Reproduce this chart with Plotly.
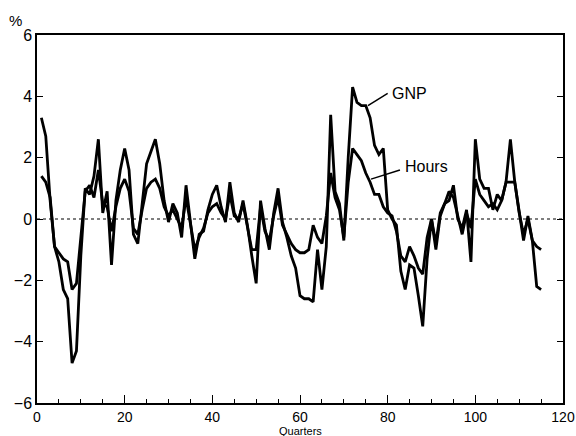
import plotly.graph_objects as go

quarters = list(range(1, 116))
gnp = [3.3, 2.7, 0.6, -0.9, -1.4, -2.3, -2.6, -4.7, -4.3, -1.2,
       1.0, 0.8, 1.4, 2.6, 0.2, 0.9, -1.5, 0.6, 1.6, 2.3,
       1.6, -0.5, -0.8, 0.4, 1.8, 2.2, 2.6, 1.8, 0.6, -0.1,
       0.5, 0.2, -0.6, 1.1, -0.1, -1.3, -0.5, -0.4, 0.3, 0.8,
       1.1, 0.4, -0.1, 1.2, 0.2, -0.1, 0.6, -0.2, -1.2, -2.1,
       0.6, -0.3, -1.0, 0.2, 1.0, -0.1, -0.6, -1.2, -1.6, -2.5,
       -2.6, -2.6, -2.7, -1.0, -2.3, -0.9, 3.4, 0.9, 0.5, -0.7,
       2.0, 4.3, 3.8, 3.7, 3.7, 3.3, 2.4, 2.1, 2.3, 0.3,
       0.0, -0.2, -1.7, -2.3, -1.5, -1.6, -2.5, -3.5, -1.3, 0.0,
       -1.0, 0.1, 0.5, 0.6, 1.1, 0.0, -0.3, 0.3, -1.4, 2.6,
       1.3, 1.0, 1.0, 0.3, 0.8, 0.6, 1.2, 2.6, 1.2, 0.3,
       -0.7, 0.1, -0.7, -2.2, -2.3]
hours = [1.4, 1.2, 0.7, -0.9, -1.1, -1.3, -1.4, -2.3, -2.1, -0.6,
         0.9, 1.1, 0.7, 1.6, 0.5, 0.4, -0.4, 0.4, 1.0, 1.3,
         0.9, -0.3, -0.5, 0.3, 1.0, 1.2, 1.3, 1.0, 0.4, 0.1,
         0.3, 0.0, -0.3, 0.7, -0.1, -1.0, -0.6, -0.3, 0.2, 0.4,
         0.5, 0.2, 0.0, 0.8, 0.1, 0.0, 0.5, -0.3, -1.0, -1.0,
         0.4, -0.4, -0.7, 0.1, 0.7, -0.2, -0.5, -0.8, -1.0, -1.1,
         -1.1, -1.0, -0.2, -0.6, -0.8, 0.1, 1.5, 0.7, 0.3, -0.6,
         1.2, 2.3, 2.1, 1.9, 1.5, 1.2, 0.8, 0.8, 0.4, 0.2,
         0.1, -0.4, -1.2, -1.4, -0.9, -1.2, -1.6, -1.8, -0.6, 0.0,
         -0.8, 0.2, 0.5, 0.9, 0.7, 0.1, -0.5, 0.2, -0.3, 1.3,
         0.8, 0.6, 0.4, 0.5, 0.3, 0.6, 1.2, 1.2, 1.2, 0.2,
         -0.5, 0.0, -0.7, -0.9, -1.0]

x_ticks = [0, 20, 40, 60, 80, 100, 120]
y_ticks = [-6, -4, -2, 0, 2, 4, 6]

FONT = "Liberation Sans, Arial, sans-serif"

fig = go.Figure()
fig.add_trace(go.Scatter(x=quarters, y=gnp, mode="lines", name="GNP",
                         line=dict(color="black", width=2.8)))
fig.add_trace(go.Scatter(x=quarters, y=hours, mode="lines", name="Hours",
                         line=dict(color="black", width=2.8)))

# zero reference line
fig.add_shape(type="line", xref="x", yref="y", x0=0, x1=120, y0=0, y1=0,
              line=dict(color="black", width=1.2, dash="dot"))

# labels with leader lines
fig.add_shape(type="line", xref="x", yref="y", x0=80.0, y0=4.1, x1=75.5, y1=3.7,
              line=dict(color="black", width=1.5))
fig.add_annotation(x=80.6, y=4.1, text="GNP", showarrow=False, xanchor="left",
                   yanchor="middle", font=dict(family=FONT, size=16, color="black"))
fig.add_shape(type="line", xref="x", yref="y", x0=82.8, y0=1.6, x1=76.2, y1=1.3,
              line=dict(color="black", width=1.5))
fig.add_annotation(x=83.4, y=1.7, text="Hours", showarrow=False, xanchor="left",
                   yanchor="middle", font=dict(family=FONT, size=16, color="black"))

fig.add_annotation(xref="paper", yref="paper", x=-0.04, y=1.01, text="%",
                   showarrow=False, xanchor="center", yanchor="bottom",
                   font=dict(family=FONT, size=15, color="black"))
fig.add_annotation(xref="paper", yref="paper", x=0.5, y=-0.055, text="Quarters",
                   showarrow=False, xanchor="center", yanchor="top",
                   font=dict(family=FONT, size=11, color="black"))

fig.update_layout(
    width=576, height=436,
    margin=dict(l=37, r=13, t=35, b=33),
    paper_bgcolor="white", plot_bgcolor="white",
    showlegend=False,
    font=dict(family=FONT, color="black"),
)
fig.update_xaxes(range=[0, 120], tickvals=x_ticks, ticks="inside", ticklen=8,
                 tickcolor="black", showline=True, linecolor="black", linewidth=1.5,
                 mirror=True, showgrid=False, zeroline=False, automargin=False,
                 ticklabeloverflow="allow",
                 tickfont=dict(family=FONT, size=14),
                 minor=dict(dtick=5, ticks="inside", ticklen=4, tickcolor="black"))
fig.update_yaxes(range=[-6, 6], tickvals=y_ticks, ticks="inside", ticklen=6,
                 tickcolor="black", showline=True, linecolor="black", linewidth=1.5,
                 mirror="ticks", showgrid=False, zeroline=False, automargin=False,
                 ticklabeloverflow="allow",
                 tickfont=dict(family=FONT, size=16))

fig.write_html("out.html", config={"displayModeBar": False},
               post_script="document.body.style.margin='0px';document.body.style.overflow='hidden';")
